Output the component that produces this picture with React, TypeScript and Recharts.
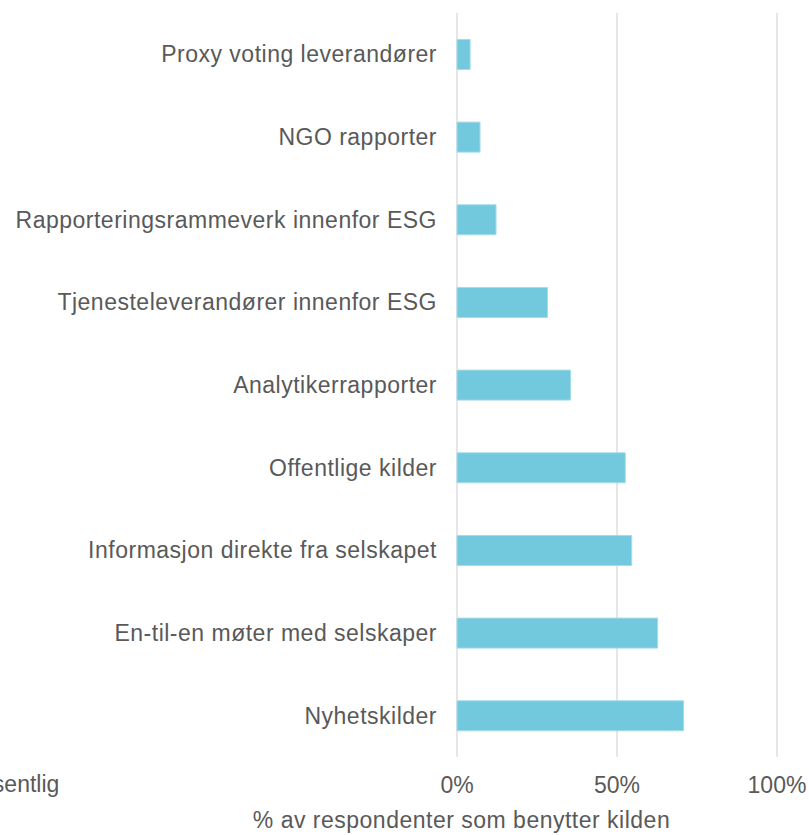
import React from "react";
import { Bar, BarChart, CartesianGrid, XAxis, YAxis } from "recharts";

const CATEGORIES = [
  "Proxy voting leverandører",
  "NGO rapporter",
  "Rapporteringsrammeverk innenfor ESG",
  "Tjenesteleverandører innenfor ESG",
  "Analytikerrapporter",
  "Offentlige kilder",
  "Informasjon direkte fra selskapet",
  "En-til-en møter med selskaper",
  "Nyhetskilder",
];
const SHARE = [4.1, 7.2, 12.2, 28.3, 35.5, 52.6, 54.6, 62.7, 70.8];
const X_TICKS = [0, 50, 100];
const AXIS_TITLE = "% av respondenter som benytter kilden";
const LEGEND_LABEL = "Vesentlig";

const FONT = "'Liberation Sans', Arial, sans-serif";
const GREY = "#595959";

const data = CATEGORIES.map((name, i) => ({ name, v: SHARE[i] }));

export default function App() {
  return (
    <div
      style={{
        position: "absolute",
        top: 0,
        left: 0,
        width: 809,
        height: 835,
        overflow: "hidden",
        background: "#fff",
        fontFamily: FONT,
      }}
    >
      <BarChart
        width={809}
        height={835}
        data={data}
        layout="vertical"
        margin={{ top: 13, right: 32, bottom: 38, left: 0 }}
        barCategoryGap="32%"
      >
        <CartesianGrid horizontal={false} stroke="#e6e6e6" strokeWidth={2} />
        <XAxis
          type="number"
          domain={[0, 100]}
          ticks={X_TICKS}
          tickFormatter={(v) => `${v}%`}
          axisLine={false}
          tickLine={false}
          tickSize={0}
          tickMargin={20}
          height={40}
          tick={{ fill: GREY, fontSize: 23, fontFamily: FONT }}
        />
        <YAxis
          type="category"
          dataKey="name"
          width={457}
          axisLine={false}
          tickLine={false}
          tickSize={0}
          tickMargin={20}
          interval={0}
          tick={{ fill: GREY, fontSize: 23, fontFamily: FONT, letterSpacing: 0.5 }}
        />
        <Bar
          dataKey="v"
          fill="#72c8dc"
          stroke="#a6dcea"
          strokeWidth={1}
          isAnimationActive={false}
        />
      </BarChart>
      <div
        style={{
          position: "absolute",
          left: 250,
          width: 423,
          top: 807,
          textAlign: "center",
          color: GREY,
          fontSize: 23,
          letterSpacing: 0.5,
          whiteSpace: "nowrap",
        }}
      >
        {AXIS_TITLE}
      </div>
      {/* legend entry sits partly outside the left edge, as in the source */}
      <div
        style={{
          position: "absolute",
          left: -34,
          top: 771,
          color: GREY,
          fontSize: 23,
          whiteSpace: "nowrap",
        }}
      >
        {LEGEND_LABEL}
      </div>
    </div>
  );
}
